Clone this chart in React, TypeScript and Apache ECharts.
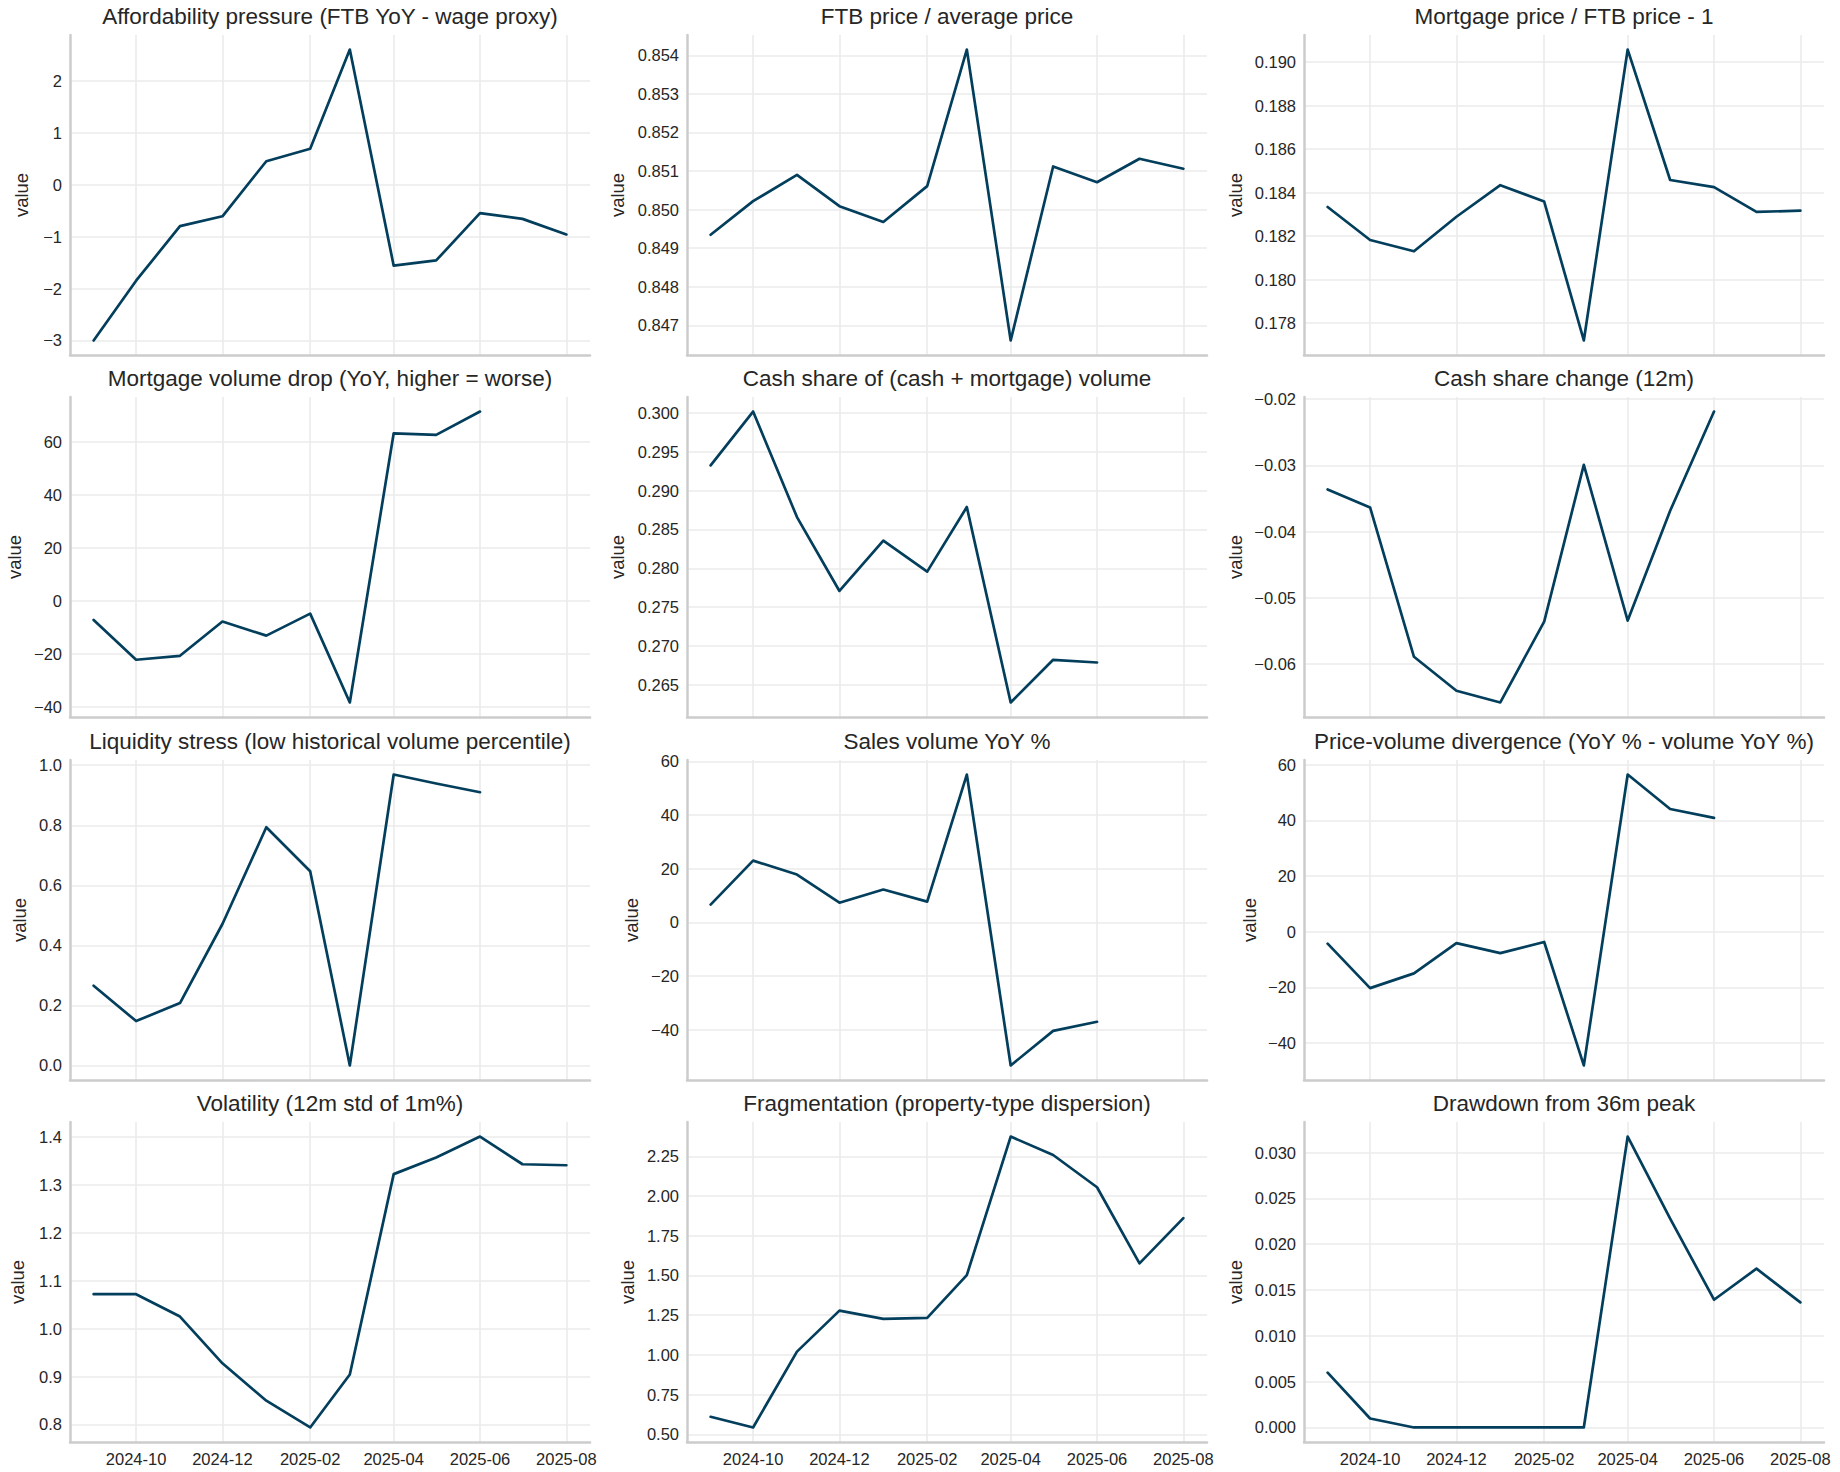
import React, { useEffect, useRef } from "react";
import * as echarts from "echarts";

// ---------- data ----------
const months = [
  "2024-09", "2024-10", "2024-11", "2024-12", "2025-01", "2025-02",
  "2025-03", "2025-04", "2025-05", "2025-06", "2025-07", "2025-08",
];
const xTickLabels = ["2024-10", "2024-12", "2025-02", "2025-04", "2025-06", "2025-08"];

const affordability = [-3.0, -1.85, -0.8, -0.61, 0.45, 0.69, 2.6, -1.56, -1.46, -0.55, -0.66, -0.96];
const ftbRatio = [0.84935, 0.85022, 0.8509, 0.85009, 0.84968, 0.85061, 0.85415, 0.84661, 0.85112, 0.85071, 0.85132, 0.85106];
const mortgagePremium = [0.18334, 0.18182, 0.1813, 0.18289, 0.18434, 0.18359, 0.1772, 0.19058, 0.18458, 0.18425, 0.18311, 0.18317];
const mortgageDrop = [-7.3, -22.3, -20.8, -7.9, -13.2, -4.9, -38.4, 63.1, 62.5, 71.3, null, null];
const cashShare = [0.29324, 0.30017, 0.28659, 0.27708, 0.28356, 0.27957, 0.28788, 0.26273, 0.26822, 0.26787, null, null];
const cashShareChange = [-0.03362, -0.03634, -0.05889, -0.06402, -0.06578, -0.05357, -0.0299, -0.05342, -0.03684, -0.02186, null, null];
const liquidityStress = [0.2656, 0.1478, 0.2078, 0.4711, 0.7933, 0.6467, 0.0, 0.9689, 0.9389, 0.91, null, null];
const salesYoY = [6.6, 23.0, 17.8, 7.3, 12.2, 7.7, 55.1, -53.4, -40.5, -37.1, null, null];
const priceVolumeDiv = [-4.3, -20.3, -15.0, -4.1, -7.7, -3.7, -48.1, 56.5, 44.1, 40.9, null, null];
const volatility = [1.0718, 1.0718, 1.0251, 0.9275, 0.8495, 0.7937, 0.9042, 1.3223, 1.3571, 1.4007, 1.3429, 1.3408];
const fragmentation = [0.611, 0.544, 1.021, 1.279, 1.227, 1.233, 1.502, 2.374, 2.258, 2.055, 1.576, 1.861];
const drawdown = [0.00598, 0.00098, 0, 0, 0, 0, 0, 0.03175, 0.0228, 0.01394, 0.01733, 0.01365];

const titles = [
  "Affordability pressure (FTB YoY - wage proxy)",
  "FTB price / average price",
  "Mortgage price / FTB price - 1",
  "Mortgage volume drop (YoY, higher = worse)",
  "Cash share of (cash + mortgage) volume",
  "Cash share change (12m)",
  "Liquidity stress (low historical volume percentile)",
  "Sales volume YoY %",
  "Price-volume divergence (YoY % - volume YoY %)",
  "Volatility (12m std of 1m%)",
  "Fragmentation (property-type dispersion)",
  "Drawdown from 36m peak",
];

const yTicks1 = [-3, -2, -1, 0, 1, 2];
const yTicks2 = [0.847, 0.848, 0.849, 0.85, 0.851, 0.852, 0.853, 0.854];
const yTicks3 = [0.178, 0.18, 0.182, 0.184, 0.186, 0.188, 0.19];
const yTicks4 = [-40, -20, 0, 20, 40, 60];
const yTicks5 = [0.265, 0.27, 0.275, 0.28, 0.285, 0.29, 0.295, 0.3];
const yTicks6 = [-0.06, -0.05, -0.04, -0.03, -0.02];
const yTicks7 = [0, 0.2, 0.4, 0.6, 0.8, 1.0];
const yTicks8 = [-40, -20, 0, 20, 40, 60];
const yTicks9 = [-40, -20, 0, 20, 40, 60];
const yTicks10 = [0.8, 0.9, 1.0, 1.1, 1.2, 1.3, 1.4];
const yTicks11 = [0.5, 0.75, 1.0, 1.25, 1.5, 1.75, 2.0, 2.25];
const yTicks12 = [0, 0.005, 0.01, 0.015, 0.02, 0.025, 0.03];

const seriesValues = [
  affordability, ftbRatio, mortgagePremium, mortgageDrop, cashShare, cashShareChange,
  liquidityStress, salesYoY, priceVolumeDiv, volatility, fragmentation, drawdown,
];
const yTickSets = [
  yTicks1, yTicks2, yTicks3, yTicks4, yTicks5, yTicks6,
  yTicks7, yTicks8, yTicks9, yTicks10, yTicks11, yTicks12,
];
const yDecimals = [0, 3, 3, 0, 3, 2, 1, 0, 0, 1, 2, 3];

// ---------- layout / style ----------
const FONT = "'Liberation Sans', Arial, Helvetica, sans-serif";
const TEXT = "#262626";
const LINE = "#033f5c";
const SPINE = "#cccccc";
const GRIDC = "#ebebeb";
const COL_LEFT = [70, 687, 1304];
const ROW_TOP = [35, 397, 760, 1122];
const GRID_W = 520;
const GRID_H = 320;
const NAME_GAP = [39, 60, 59, 46, 60, 59, 41, 46, 45, 43, 50, 59];

const toTs = (m: string) => Date.UTC(+m.slice(0, 4), +m.slice(5, 7) - 1, 1);
const fmtMonth = (v: number) => {
  const d = new Date(v);
  const mm = d.getUTCMonth() + 1;
  return `${d.getUTCFullYear()}-${mm < 10 ? "0" + mm : mm}`;
};
const fmtNum = (v: number, dec: number) => {
  const s = Math.abs(v) < 1e-12 ? (0).toFixed(dec) : v.toFixed(dec);
  return s.replace("-", "\u2212");
};

function buildOption() {
  const xs = months.map(toTs);
  const xFirst = xs[0];
  const xLast = xs[xs.length - 1];
  const xPad = (xLast - xFirst) * 0.05;
  const xTickTs = xTickLabels.map(toTs);

  const grid: any[] = [];
  const xAxis: any[] = [];
  const yAxis: any[] = [];
  const series: any[] = [];
  const title: any[] = [];

  seriesValues.forEach((vals, i) => {
    const r = Math.floor(i / 3);
    const c = i % 3;
    const finite = vals.filter((v) => v !== null) as number[];
    const lo = Math.min(...finite);
    const hi = Math.max(...finite);
    const pad = (hi - lo) * 0.05;
    const dec = yDecimals[i];

    grid.push({
      left: COL_LEFT[c],
      top: ROW_TOP[r],
      width: GRID_W,
      height: GRID_H,
      containLabel: false,
      outerBoundsMode: "none",
    });
    title.push({
      text: titles[i],
      left: COL_LEFT[c] + GRID_W / 2,
      top: ROW_TOP[r] - 18.5,
      textAlign: "center",
      textVerticalAlign: "middle",
      padding: 0,
      textStyle: { fontSize: 22.5, fontWeight: "normal", color: TEXT, fontFamily: FONT },
    });
    xAxis.push({
      type: "value",
      gridIndex: i,
      min: xFirst - xPad,
      max: xLast + xPad,
      axisLine: { show: true, onZero: false, lineStyle: { color: SPINE, width: 2.5 } },
      axisTick: { show: false, customValues: xTickTs },
      axisLabel: {
        show: r === 3,
        customValues: xTickTs,
        formatter: (v: number) => fmtMonth(v),
        margin: 8,
        fontSize: 16.5,
        color: TEXT,
        fontFamily: FONT,
      },
      splitLine: { show: true, lineStyle: { color: GRIDC, width: 1.6 } },
    });
    yAxis.push({
      type: "value",
      gridIndex: i,
      min: lo - pad,
      max: hi + pad,
      name: "value",
      nameLocation: "middle",
      nameGap: NAME_GAP[i],
      nameTextStyle: { fontSize: 18.5, color: TEXT, fontFamily: FONT },
      axisLine: { show: true, onZero: false, lineStyle: { color: SPINE, width: 2.5 } },
      axisTick: { show: false, customValues: yTickSets[i] },
      axisLabel: {
        customValues: yTickSets[i],
        formatter: (v: number) => fmtNum(v, dec),
        margin: 8,
        fontSize: 16.5,
        color: TEXT,
        fontFamily: FONT,
      },
      splitLine: { show: true, lineStyle: { color: GRIDC, width: 1.6 } },
    });
    series.push({
      type: "line",
      xAxisIndex: i,
      yAxisIndex: i,
      data: vals.map((v, k) => [xs[k], v]),
      showSymbol: false,
      symbol: "none",
      connectNulls: false,
      lineStyle: { color: LINE, width: 2.7, join: "round", cap: "round" },
      silent: true,
    });
  });

  return {
    animation: false,
    backgroundColor: "#ffffff",
    textStyle: { fontFamily: FONT },
    title,
    grid,
    xAxis,
    yAxis,
    series,
  };
}

export default function App() {
  const ref = useRef<HTMLDivElement>(null);
  useEffect(() => {
    if (!ref.current) return;
    const chart = echarts.init(ref.current, null, { renderer: "svg" });
    chart.setOption(buildOption() as any);
    return () => chart.dispose();
  }, []);
  return (
    <div
      ref={ref}
      style={{ position: "absolute", left: 0, top: 0, width: 1840, height: 1472, background: "#fff" }}
    />
  );
}
